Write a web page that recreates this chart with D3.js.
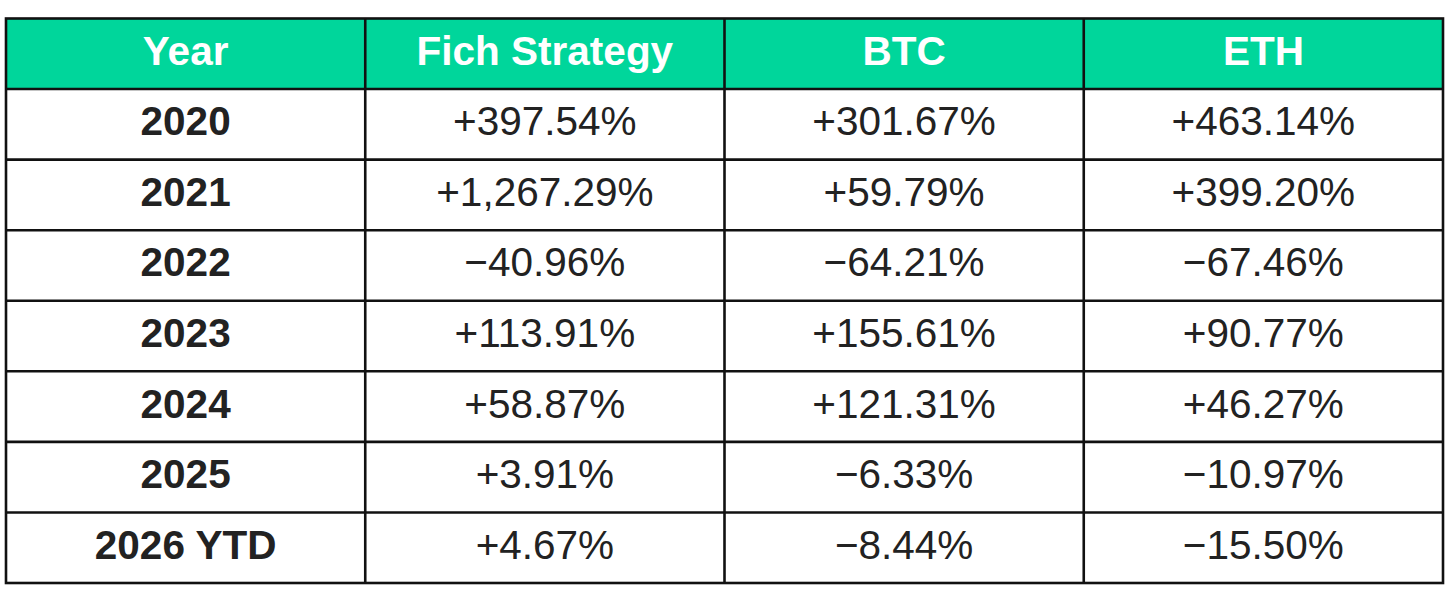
<!DOCTYPE html>
<html><head><meta charset="utf-8">
<script src="https://cdn.jsdelivr.net/npm/d3@7"></script>
<style>html,body{margin:0;padding:0;background:#fff;}</style>
</head><body>
<svg id="c" width="1456" height="603"></svg>
<script>
const columns = ["Year", "Fich Strategy", "BTC", "ETH"];
const years = ["2020", "2021", "2022", "2023", "2024", "2025", "2026 YTD"];
const fich = [397.54, 1267.29, -40.96, 113.91, 58.87, 3.91, 4.67];
const btc = [301.67, 59.79, -64.21, 155.61, 121.31, -6.33, -8.44];
const eth = [463.14, 399.20, -67.46, 90.77, 46.27, -10.97, -15.50];

(function () {
const svg = d3.select("#c");
const fmt = d3.format("+,.2f");
const L = 6, R = 1443, T = 18.5, B = 583;
const rowsIdx = d3.range(years.length + 1);
const x = d3.scaleBand().domain(columns).range([L, R]);
const y = d3.scaleBand().domain(rowsIdx).range([T, B]);

const rows = years.map((yr, i) => [yr, fmt(fich[i]) + "%", fmt(btc[i]) + "%", fmt(eth[i]) + "%"]);

svg.append("rect").attr("x", L).attr("y", y(0)).attr("width", R - L).attr("height", y.bandwidth()).attr("fill", "#00d69b");

const font = "'Liberation Sans', Arial, sans-serif";
const fs = 40.5, off = 11;
svg.selectAll("text.h").data(columns).join("text")
  .attr("x", d => x(d) + x.bandwidth() / 2)
  .attr("y", y(0) + y.bandwidth() / 2 + off)
  .attr("text-anchor", "middle").attr("font-family", font).attr("font-weight", "bold")
  .attr("font-size", fs).attr("fill", "#ffffff").text(d => d);

rows.forEach((r, i) => {
  svg.append("g").selectAll("text").data(r).join("text")
    .attr("x", (d, j) => x(columns[j]) + x.bandwidth() / 2)
    .attr("y", y(i + 1) + y.bandwidth() / 2 + off)
    .attr("text-anchor", "middle").attr("font-family", font)
    .attr("font-weight", (d, j) => j === 0 ? "bold" : "normal")
    .attr("font-size", fs).attr("fill", "#222222").text(d => d);
});

const g = svg.append("g").attr("stroke", "#111").attr("stroke-width", 2.6);
rowsIdx.slice(1).forEach(k => {
  g.append("line").attr("x1", L).attr("x2", R).attr("y1", y(k)).attr("y2", y(k));
});
columns.slice(1).forEach(c => {
  g.append("line").attr("x1", x(c)).attr("x2", x(c)).attr("y1", T).attr("y2", B);
});
g.append("rect").attr("x", L).attr("y", T).attr("width", R - L).attr("height", B - T).attr("fill", "none");
})();
</script>
</body></html>
